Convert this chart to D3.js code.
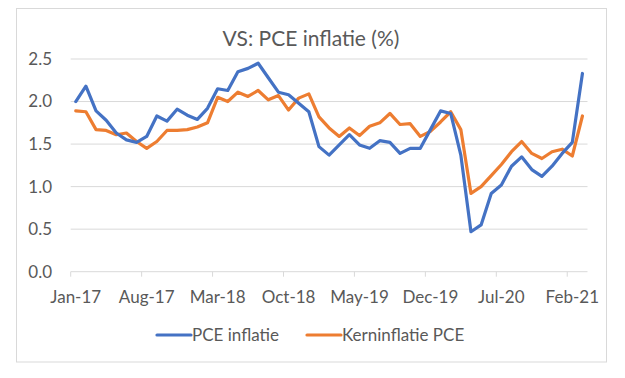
<!DOCTYPE html>
<html>
<head>
<meta charset="utf-8">
<script src="https://cdn.jsdelivr.net/npm/d3@7"></script>
<style>
  body { margin: 0; background: #fff; }
  text { font-family: Lato, "Noto Sans", sans-serif; fill: #595959; }
</style>
</head>
<body>
<svg id="chart" width="625" height="378"></svg>
<script>
var months = ['Jan', 'Feb', 'Mar', 'Apr', 'May', 'Jun', 'Jul', 'Aug', 'Sep', 'Oct', 'Nov', 'Dec'];
var categories = [];
for (var yr = 17; yr <= 21; yr++) {
  months.forEach(function(m, i) {
    if (yr === 21 && i > 2) return;
    categories.push(m + '-' + yr);
  });
}

var pceInflatie = [
  2.00, 2.18, 1.89, 1.78, 1.63, 1.55, 1.52, 1.59, 1.83, 1.77, 1.91, 1.84,
  1.79, 1.92, 2.15, 2.13, 2.35, 2.39, 2.45, 2.28, 2.11, 2.08, 1.98, 1.88,
  1.47, 1.37, 1.49, 1.61, 1.49, 1.45, 1.54, 1.52, 1.39, 1.45, 1.45, 1.67,
  1.89, 1.86, 1.37, 0.47, 0.55, 0.92, 1.02, 1.24, 1.35, 1.20, 1.12, 1.24,
  1.39, 1.52, 2.33
];
var kernInflatie = [
  1.89, 1.88, 1.67, 1.66, 1.61, 1.63, 1.53, 1.45, 1.53, 1.66, 1.66, 1.67,
  1.70, 1.75, 2.05, 2.00, 2.11, 2.06, 2.13, 2.02, 2.07, 1.90, 2.04, 2.09,
  1.82, 1.69, 1.59, 1.69, 1.60, 1.71, 1.75, 1.86, 1.73, 1.74, 1.59, 1.65,
  1.76, 1.88, 1.67, 0.92, 1.00, 1.13, 1.26, 1.41, 1.53, 1.39, 1.33, 1.41,
  1.44, 1.36, 1.83
];
var yTicks = [0, 0.5, 1.0, 1.5, 2.0, 2.5];
var seriesNames = ['PCE inflatie', 'Kerninflatie PCE'];
var colors = ['#4472C4', '#ED7D31'];

var svg = d3.select('#chart');

svg.append('rect')
    .attr('x', 16.5).attr('y', 8.5)
    .attr('width', 590).attr('height', 353.5)
    .attr('fill', '#fff')
    .attr('stroke', '#d9d9d9');

var x = d3.scaleBand().domain(categories).range([70.7, 587.5]).padding(0);
var y = d3.scaleLinear().domain([0, 2.5]).range([271.7, 59]);

// gridlines
svg.append('g').selectAll('line').data(yTicks.slice(1)).enter()
  .append('line')
    .attr('x1', 70.7).attr('x2', 587.5)
    .attr('y1', function(d) { return y(d); })
    .attr('y2', function(d) { return y(d); })
    .attr('stroke', '#d9d9d9').attr('stroke-width', 1);

// y labels
svg.append('g').selectAll('text').data(yTicks).enter()
  .append('text')
    .attr('x', 52)
    .attr('y', function(d) { return y(d); })
    .attr('dy', '0.35em')
    .attr('text-anchor', 'end')
    .style('font-size', '17px')
    .text(function(d) { return d.toFixed(1); });

// x axis
var tickCats = categories.filter(function(d, i) { return i % 7 === 0; });
svg.append('line')
    .attr('x1', 70.7).attr('x2', 587.5)
    .attr('y1', y(0)).attr('y2', y(0))
    .attr('stroke', '#d9d9d9');
svg.append('g').selectAll('line').data(tickCats).enter()
  .append('line')
    .attr('x1', function(d) { return x(d); })
    .attr('x2', function(d) { return x(d); })
    .attr('y1', y(0)).attr('y2', y(0) + 5)
    .attr('stroke', '#d9d9d9');
svg.append('g').selectAll('text').data(tickCats).enter()
  .append('text')
    .attr('x', function(d) { return x(d) + x.bandwidth() / 2; })
    .attr('y', 303)
    .attr('text-anchor', 'middle')
    .style('font-size', '17px')
    .text(function(d) { return d; });

// lines
var line = d3.line()
    .x(function(d, i) { return x(categories[i]) + x.bandwidth() / 2; })
    .y(function(d) { return y(d); })
    .curve(d3.curveLinear);

[kernInflatie, pceInflatie].forEach(function(s, k) {
  svg.append('path')
      .datum(s)
      .attr('d', line)
      .attr('fill', 'none')
      .attr('stroke', colors[1 - k])
      .attr('stroke-width', 3.2)
      .attr('stroke-linejoin', 'round')
      .attr('stroke-linecap', 'round');
});

// title
svg.append('text')
    .attr('x', 311).attr('y', 46)
    .attr('text-anchor', 'middle')
    .style('font-size', '21px')
    .text('VS: PCE inflatie (%)');

// legend
var legendX = [157, 307];
seriesNames.forEach(function(name, i) {
  var g = svg.append('g').attr('transform', 'translate(' + legendX[i] + ',335)');
  g.append('line')
      .attr('x1', 0).attr('x2', 34)
      .attr('stroke', colors[i]).attr('stroke-width', 3.2)
      .attr('stroke-linecap', 'round');
  g.append('text')
      .attr('x', 35).attr('dy', '0.35em')
      .style('font-size', '17px')
      .text(name);
});
</script>
</body>
</html>
